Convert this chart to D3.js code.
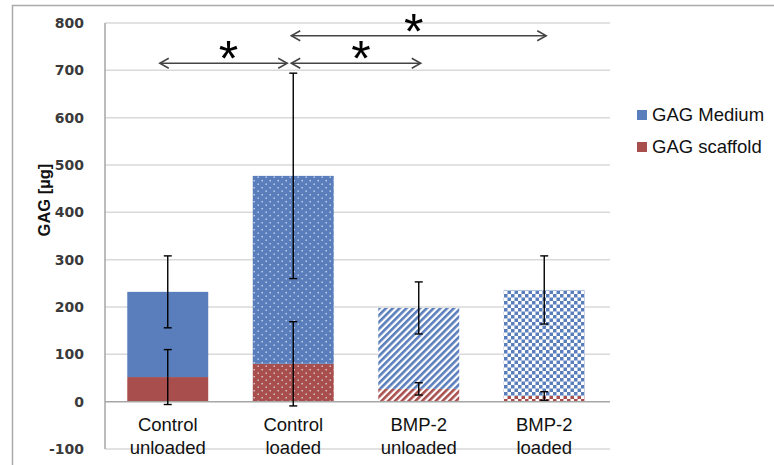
<!DOCTYPE html>
<html>
<head>
<meta charset="utf-8">
<script src="https://cdn.jsdelivr.net/npm/d3@7"></script>
<style>
  html, body { margin: 0; padding: 0; background: #fff; }
  svg { display: block; }
</style>
</head>
<body>
<svg id="chart" width="774" height="465"></svg>
<script>
// ---- data ----
const categories = ["Control unloaded", "Control loaded", "BMP-2 unloaded", "BMP-2 loaded"];
const categoryLines = [["Control", "unloaded"], ["Control", "loaded"], ["BMP-2", "unloaded"], ["BMP-2", "loaded"]];
const seriesNames = ["GAG Medium", "GAG scaffold"];
const scaffoldValues = [52, 80, 27, 12];
const mediumValues = [180, 397, 171, 224];
const scaffoldErrors = [58, 89, 13, 9];
const mediumErrors = [76, 217, 55, 72];
const yTicks = [-100, 0, 100, 200, 300, 400, 500, 600, 700, 800];
const patterns = ["solid", "dots", "stripes", "checker"];
// significance brackets: from category index, to category index, level (µg)
const sigFrom = [0, 1, 1];
const sigTo = [1, 2, 3];
const sigLevel = [715, 715, 773];

// ---- styles ----
const blue = "#5A7EBC";
const red = "#A84F4D";
const colors = [blue, red];

const svg = d3.select("#chart");
const margin = { left: 105, right: 167, top: 23, bottom: 16 };
const W = 774, H = 465;

const x = d3.scaleBand().domain(categories)
  .range([margin.left, W - margin.right])
  .paddingInner(0.355).paddingOuter(0.1775);
const y = d3.scaleLinear().domain([-100, 800]).range([H - margin.bottom, margin.top]);

// outer frame
svg.append("path")
  .attr("d", `M12.5,${H + 5} L12.5,5.5 L${W + 5},5.5`)
  .attr("fill", "none").attr("stroke", "#ababab").attr("stroke-width", 1.5);

// patterns
const defs = svg.append("defs");
colors.forEach((c, si) => {
  // dots
  const pd = defs.append("pattern").attr("id", `dots${si}`)
    .attr("patternUnits", "userSpaceOnUse").attr("width", 8).attr("height", 7);
  pd.append("rect").attr("width", 8).attr("height", 7).attr("fill", c);
  pd.append("rect").attr("x", 1.5).attr("y", 1.5).attr("width", 1.4).attr("height", 1.4).attr("fill", "#dfe6f5").attr("opacity", 0.85);
  pd.append("rect").attr("x", 5.5).attr("y", 5).attr("width", 1.4).attr("height", 1.4).attr("fill", "#dfe6f5").attr("opacity", 0.85);
  // stripes
  const ps = defs.append("pattern").attr("id", `stripes${si}`)
    .attr("patternUnits", "userSpaceOnUse").attr("width", 4.8).attr("height", 10)
    .attr("patternTransform", "rotate(45)");
  ps.append("rect").attr("width", 4.8).attr("height", 10).attr("fill", "#fff");
  ps.append("rect").attr("width", 2.6).attr("height", 10).attr("fill", c);
  // checker
  const pc = defs.append("pattern").attr("id", `checker${si}`)
    .attr("patternUnits", "userSpaceOnUse").attr("width", 7).attr("height", 7);
  pc.append("rect").attr("width", 7).attr("height", 7).attr("fill", "#fff");
  pc.append("rect").attr("width", 3.5).attr("height", 3.5).attr("fill", c);
  pc.append("rect").attr("x", 3.5).attr("y", 3.5).attr("width", 3.5).attr("height", 3.5).attr("fill", c);
});
function fillFor(pi, si) {
  const p = patterns[pi];
  return p === "solid" ? colors[si] : `url(#${p}${si})`;
}

// gridlines
const plotRight = W - margin.right + 3;
svg.append("g").selectAll("line").data(yTicks.filter(t => t !== 0)).join("line")
  .attr("x1", margin.left).attr("x2", plotRight)
  .attr("y1", d => y(d)).attr("y2", d => y(d))
  .attr("stroke", "#d9d9d9").attr("stroke-width", 1.5);

// y tick labels
svg.append("g").selectAll("text").data(yTicks).join("text")
  .attr("x", 84).attr("y", d => y(d)).attr("dy", "0.36em")
  .attr("text-anchor", "end")
  .attr("font-family", "DejaVu Sans, Verdana, sans-serif").attr("font-weight", "bold")
  .attr("font-size", 14).attr("fill", "#3a3a3a")
  .text(d => d);

// y axis label
svg.append("text")
  .attr("transform", `translate(50,${200}) rotate(-90)`)
  .attr("text-anchor", "middle")
  .attr("font-family", "Liberation Sans, Arial, sans-serif").attr("font-weight", "bold")
  .attr("font-size", 16.5).attr("fill", "#111")
  .text("GAG [µg]");

// bars
const bw = x.bandwidth();
const gBars = svg.append("g");
categories.forEach((c, i) => {
  gBars.append("rect")
    .attr("x", x(c)).attr("width", bw)
    .attr("y", y(scaffoldValues[i])).attr("height", y(0) - y(scaffoldValues[i]))
    .attr("fill", fillFor(i, 1));
  const top = scaffoldValues[i] + mediumValues[i];
  gBars.append("rect")
    .attr("x", x(c)).attr("width", bw)
    .attr("y", y(top)).attr("height", y(scaffoldValues[i]) - y(top))
    .attr("fill", fillFor(i, 0));
});

// y axis line and zero line
svg.append("line").attr("x1", margin.left).attr("x2", margin.left)
  .attr("y1", y(800)).attr("y2", y(-100)).attr("stroke", "#a6a6a6").attr("stroke-width", 1.5);
svg.append("line").attr("x1", margin.left).attr("x2", plotRight)
  .attr("y1", y(0)).attr("y2", y(0)).attr("stroke", "#a6a6a6").attr("stroke-width", 1.5);

// error bars
const gErr = svg.append("g").attr("stroke", "#000").attr("stroke-width", 1.4);
function errBar(cx, v, e) {
  const cap = 4;
  gErr.append("line").attr("x1", cx).attr("x2", cx).attr("y1", y(v + e)).attr("y2", y(v - e));
  gErr.append("line").attr("x1", cx - cap).attr("x2", cx + cap).attr("y1", y(v + e)).attr("y2", y(v + e));
  gErr.append("line").attr("x1", cx - cap).attr("x2", cx + cap).attr("y1", y(v - e)).attr("y2", y(v - e));
}
categories.forEach((c, i) => {
  const cx = x(c) + bw / 2;
  errBar(cx, scaffoldValues[i] + mediumValues[i], mediumErrors[i]);
  errBar(cx, scaffoldValues[i], scaffoldErrors[i]);
});

// x category labels
categories.forEach((c, i) => {
  const t = svg.append("text")
    .attr("x", x(c) + bw / 2).attr("y", 431)
    .attr("text-anchor", "middle")
    .attr("font-family", "Liberation Sans, Arial, sans-serif")
    .attr("font-size", 18.5).attr("fill", "#111");
  categoryLines[i].forEach((ln, k) => {
    t.append("tspan").attr("x", x(c) + bw / 2).attr("dy", k === 0 ? 0 : 23).text(ln);
  });
});

// legend
seriesNames.forEach((s, i) => {
  const ly = 115 + i * 32;
  svg.append("rect").attr("x", 637).attr("y", ly - 5).attr("width", 10).attr("height", 10).attr("fill", colors[i]);
  svg.append("text").attr("x", 652).attr("y", ly).attr("dy", "0.35em")
    .attr("font-family", "Liberation Sans, Arial, sans-serif")
    .attr("font-size", 18.5).attr("fill", "#111").text(s);
});

// significance arrows
const gSig = svg.append("g");
const arrowStroke = "#444";
sigFrom.forEach((f, k) => {
  const x1 = x(categories[f]) + bw / 2 - 8;
  const x2 = x(categories[sigTo[k]]) + bw / 2 + 2;
  const x1a = k === 0 ? x1 : x1 + 6;
  const x2a = k === 0 ? x2 - 8 : x2;
  const yy = y(sigLevel[k]);
  const h = 5, l = 9;
  gSig.append("line").attr("x1", x1a).attr("x2", x2a).attr("y1", yy).attr("y2", yy)
    .attr("stroke", arrowStroke).attr("stroke-width", 1.5);
  gSig.append("path").attr("d", `M${x1a + l},${yy - h} L${x1a},${yy} L${x1a + l},${yy + h}`)
    .attr("fill", "none").attr("stroke", arrowStroke).attr("stroke-width", 1.5);
  gSig.append("path").attr("d", `M${x2a - l},${yy - h} L${x2a},${yy} L${x2a - l},${yy + h}`)
    .attr("fill", "none").attr("stroke", arrowStroke).attr("stroke-width", 1.5);
  const mid = (x1a + x2a) / 2 + (k === 2 ? -5 : 5);
  gSig.append("text").attr("x", mid).attr("y", yy - 15 + 28)
    .attr("text-anchor", "middle")
    .attr("font-family", "Liberation Sans, Arial, sans-serif")
    .attr("font-size", 50).attr("fill", "#000").text("*");
});
</script>
</body>
</html>
